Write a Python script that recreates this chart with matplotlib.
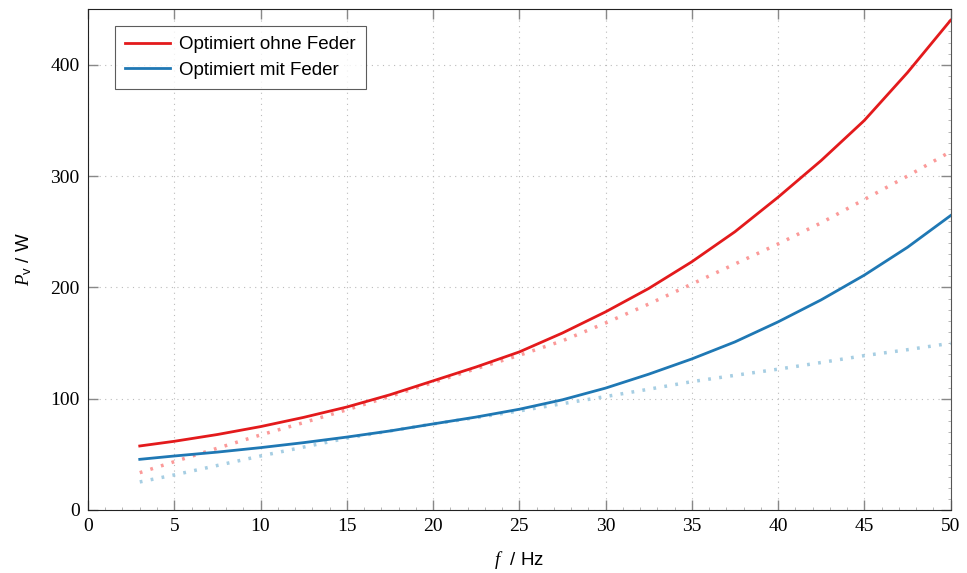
import matplotlib
matplotlib.use("Agg")
import matplotlib.pyplot as plt
from matplotlib.ticker import MultipleLocator

plt.rcParams['font.family'] = 'Liberation Sans'
plt.rcParams['mathtext.fontset'] = 'custom'
plt.rcParams['mathtext.rm'] = 'Liberation Sans'
plt.rcParams['mathtext.it'] = 'Liberation Serif:italic'

# frequency / Hz
freq = [3, 5, 7.5, 10, 12.5, 15, 17.5, 20, 22.5, 25, 27.5, 30,
        32.5, 35, 37.5, 40, 42.5, 45, 47.5, 50]

# losses / W
ohne_feder = [57.5, 61.7, 67.8, 74.9, 83.2, 92.5, 103.5, 116, 128.5, 142,
              159, 178, 199, 223, 250, 281, 314, 350, 393, 440]
ohne_feder_ref = [33.5, 43.4, 55.5, 67.4, 78.5, 90, 102, 114.5, 127, 139,
                  152, 168, 185, 203, 221, 239, 258, 279, 300, 322]
mit_feder = [45.5, 48.5, 52, 56, 60.5, 65.5, 71, 77.3, 83.5, 90.5,
             99, 109.5, 122, 135.7, 151, 169, 188.8, 211, 236, 264.5]
mit_feder_ref = [25.2, 31.5, 40, 48.5, 56.5, 64.5, 71, 77.3, 83, 89,
                 95.5, 101.9, 108.5, 115.3, 121, 126.5, 132.5, 138.7, 144, 149.8]

red = "#e31a1c"
blue = "#1f78b4"

fig = plt.figure(figsize=(9.67, 5.73), dpi=100)
ax = fig.add_axes([0.091, 0.11, 0.892, 0.874])

dots = (0, (0.8, 2.4))
ax.plot(freq, ohne_feder_ref, color="#fb9a99", lw=2.5, ls=dots)
ax.plot(freq, mit_feder_ref, color="#a6cee3", lw=2.5, ls=dots)
ax.plot(freq, ohne_feder, color=red, lw=2, label="Optimiert ohne Feder")
ax.plot(freq, mit_feder, color=blue, lw=2, label="Optimiert mit Feder")

ax.set_xlim(0, 50)
ax.set_ylim(0, 450)
ax.xaxis.set_major_locator(MultipleLocator(5))
ax.yaxis.set_major_locator(MultipleLocator(100))
ax.yaxis.set_minor_locator(MultipleLocator(10))
ax.xaxis.set_minor_locator(MultipleLocator(1))

ax.grid(True, which='major', color="#bbbbbb", ls=(0, (1, 4)), lw=0.8)
ax.tick_params(which='major', direction='in', length=7, width=1,
               color="#888888", top=True, right=True, labelsize=14, pad=6)
ax.tick_params(which='minor', direction='in', length=2.5, width=0.6,
               color="#aaaaaa", top=False, right=True, left=False)
for lab in ax.get_xticklabels() + ax.get_yticklabels():
    lab.set_fontfamily('Liberation Serif')

for s in ['left', 'bottom', 'top']:
    ax.spines[s].set_color('#222222')
ax.spines['right'].set_color('#555555')

ax.set_xlabel(r"$f$  / Hz", fontsize=13.5, labelpad=10)
ax.set_ylabel(r"$P_{\mathrm{v}}$ / W", fontsize=13.5, labelpad=12)

leg = ax.legend(loc='upper left', bbox_to_anchor=(0.02, 0.985), fontsize=13.5,
                frameon=True, fancybox=False, edgecolor='#333333',
                handlelength=2.4, handletextpad=0.5, borderpad=0.55,
                labelspacing=0.45)
leg.get_frame().set_linewidth(0.8)

fig.savefig("out.png", dpi=100)
